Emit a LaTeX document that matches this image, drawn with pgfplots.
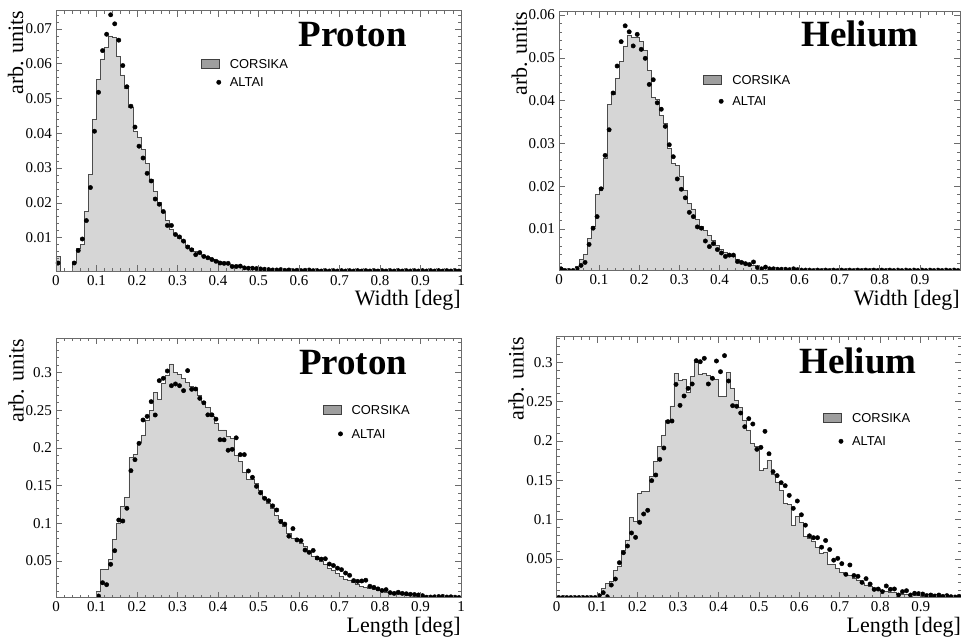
\documentclass[border=0pt]{standalone}
\usepackage{pgfplots}
\usepackage{pgfplotstable}
\pgfplotsset{compat=1.18}
\usepackage{fontspec}
\setmainfont{Liberation Serif}
\newfontfamily\legfont{Liberation Sans}

\definecolor{histfill}{gray}{0.84}
\definecolor{histline}{gray}{0.30}
\definecolor{framecol}{gray}{0.42}
\definecolor{legbox}{gray}{0.62}

% Proton width
\pgfplotstableread{
i h d
0 0.0045 0.0027
1 0.0003 0.0003
2 0.0003 0.0003
3 0.0003 0.0003
4 0.0030 0.0027
5 0.0068 0.0063
6 0.0080 0.0096
7 0.0175 0.0149
8 0.0283 0.0244
9 0.0441 0.0406
10 0.0556 0.0518
11 0.0614 0.0638
12 0.0648 0.0685
13 0.0680 0.0741
14 0.0675 0.0715
15 0.0620 0.0668
16 0.0568 0.0595
17 0.0528 0.0534
18 0.0475 0.0478
19 0.0405 0.0418
20 0.0388 0.0363
21 0.0354 0.0329
22 0.0313 0.0285
23 0.0268 0.0263
24 0.0232 0.0211
25 0.0202 0.0196
26 0.0173 0.0175
27 0.0149 0.0135
28 0.0124 0.0135
29 0.0110 0.0109
30 0.0098 0.0102
31 0.0088 0.0090
32 0.0078 0.0073
33 0.0069 0.0065
34 0.0061 0.0051
35 0.0055 0.0057
36 0.0049 0.0046
37 0.0043 0.0042
38 0.0038 0.0037
39 0.0034 0.0032
40 0.0030 0.0027
41 0.0027 0.0026
42 0.0024 0.0026
43 0.0021 0.0017
44 0.0019 0.0017
45 0.0017 0.0018
46 0.0015 0.0013
47 0.0013 0.0012
48 0.0012 0.0012
49 0.0011 0.0011
50 0.0010 0.0010
51 0.0009 0.0009
52 0.0008 0.0008
53 0.0008 0.0007
54 0.0007 0.0007
55 0.0007 0.0008
56 0.0006 0.0006
57 0.0006 0.0007
58 0.0006 0.0005
59 0.0006 0.0006
60 0.0005 0.0005
61 0.0005 0.0006
62 0.0005 0.0007
63 0.0005 0.0005
64 0.0005 0.0005
65 0.0005 0.0004
66 0.0005 0.0005
67 0.0005 0.0004
68 0.0005 0.0005
69 0.0005 0.0004
70 0.0005 0.0005
71 0.0005 0.0004
72 0.0005 0.0005
73 0.0005 0.0004
74 0.0005 0.0005
75 0.0005 0.0004
76 0.0005 0.0005
77 0.0005 0.0004
78 0.0005 0.0005
79 0.0005 0.0004
80 0.0005 0.0005
81 0.0005 0.0004
82 0.0005 0.0005
83 0.0005 0.0004
84 0.0005 0.0005
85 0.0005 0.0004
86 0.0005 0.0005
87 0.0005 0.0004
88 0.0005 0.0005
89 0.0005 0.0004
90 0.0005 0.0005
91 0.0005 0.0004
92 0.0005 0.0005
93 0.0005 0.0004
94 0.0005 0.0005
95 0.0005 0.0004
96 0.0005 0.0005
97 0.0005 0.0004
98 0.0005 0.0005
99 0.0005 0.0004
100 0.0005 nan
}\tabPW

% Helium width
\pgfplotstableread{
i h d
0 0.0008 0.0007
1 0.0003 0.0003
2 0.0003 0.0003
3 0.0003 0.0003
4 0.0012 0.0007
5 0.0028 0.0015
6 0.0040 0.0022
7 0.0078 0.0064
8 0.0105 0.0102
9 0.0180 0.0129
10 0.0196 0.0194
11 0.0265 0.0272
12 0.0391 0.0332
13 0.0414 0.0418
14 0.0453 0.0481
15 0.0492 0.0538
16 0.0528 0.0575
17 0.0552 0.0561
18 0.0547 0.0528
19 0.0547 0.0555
20 0.0538 0.0520
21 0.0518 0.0499
22 0.0470 0.0438
23 0.0407 0.0449
24 0.0403 0.0395
25 0.0366 0.0380
26 0.0346 0.0340
27 0.0288 0.0297
28 0.0254 0.0269
29 0.0248 0.0217
30 0.0223 0.0193
31 0.0190 0.0173
32 0.0159 0.0139
33 0.0147 0.0129
34 0.0122 0.0105
35 0.0106 0.0102
36 0.0097 0.0072
37 0.0085 0.0059
38 0.0073 0.0066
39 0.0061 0.0052
40 0.0053 0.0044
41 0.0045 0.0036
42 0.0038 0.0039
43 0.0035 0.0039
44 0.0030 0.0024
45 0.0025 0.0022
46 0.0020 0.0019
47 0.0018 0.0017
48 0.0015 0.0023
49 0.0012 0.0010
50 0.0010 0.0007
51 0.0008 0.0011
52 0.0007 0.0007
53 0.0006 0.0007
54 0.0005 0.0006
55 0.0005 0.0006
56 0.0004 0.0006
57 0.0004 0.0005
58 0.0004 0.0007
59 0.0004 0.0005
60 0.0003 0.0004
61 0.0003 0.0004
62 0.0003 0.0004
63 0.0003 0.0003
64 0.0003 0.0004
65 0.0003 0.0003
66 0.0003 0.0004
67 0.0003 0.0003
68 0.0003 0.0004
69 0.0003 0.0003
70 0.0003 0.0004
71 0.0003 0.0003
72 0.0003 0.0004
73 0.0003 0.0003
74 0.0003 0.0004
75 0.0003 0.0003
76 0.0003 0.0004
77 0.0003 0.0003
78 0.0003 0.0004
79 0.0003 0.0003
80 0.0003 0.0004
81 0.0003 0.0003
82 0.0003 0.0004
83 0.0003 0.0003
84 0.0003 0.0004
85 0.0003 0.0003
86 0.0003 0.0004
87 0.0003 0.0003
88 0.0003 0.0004
89 0.0003 0.0003
90 0.0003 0.0004
91 0.0003 0.0003
92 0.0003 0.0004
93 0.0003 0.0003
94 0.0003 0.0004
95 0.0003 0.0003
96 0.0003 0.0004
97 0.0003 0.0003
98 0.0003 0.0004
99 0.0003 0.0003
100 0.0003 nan
}\tabHW

% Proton length
\pgfplotstableread{
i h d
0 0.0015 0.0012
1 0.0015 0.0012
2 0.0015 0.0012
3 0.0015 0.0012
4 0.0015 0.0012
5 0.0015 0.0012
6 0.0015 0.0012
7 0.0015 0.0012
8 0.0015 0.0012
9 0.0015 0.0012
10 0.0100 0.0035
11 0.0385 0.0212
12 0.0385 0.0186
13 0.0520 0.0456
14 0.0790 0.0637
15 0.1000 0.1044
16 0.1220 0.1031
17 0.1340 0.1200
18 0.1870 0.1699
19 0.1915 0.1845
20 0.2075 0.2062
21 0.2170 0.2372
22 0.2370 0.2420
23 0.2500 0.2615
24 0.2740 0.2438
25 0.2650 0.2894
26 0.2860 0.2925
27 0.2960 0.3022
28 0.3115 0.2827
29 0.3000 0.2850
30 0.2980 0.2827
31 0.2920 0.2761
32 0.2870 0.3027
33 0.2820 0.2779
34 0.2780 0.2783
35 0.2700 0.2659
36 0.2620 0.2600
37 0.2540 0.2440
38 0.2420 0.2440
39 0.2320 0.2383
40 0.2240 0.2110
41 0.2240 0.2108
42 0.2150 0.1970
43 0.2130 0.1982
44 0.1900 0.2135
45 0.1820 0.1912
46 0.1680 0.1912
47 0.1580 0.1695
48 0.1580 0.1611
49 0.1530 0.1491
50 0.1440 0.1405
51 0.1350 0.1332
52 0.1270 0.1300
53 0.1200 0.1232
54 0.1100 0.1177
55 0.1050 0.1022
56 0.0960 0.0990
57 0.0870 0.0830
58 0.0800 0.0930
59 0.0780 0.0780
60 0.0740 0.0770
61 0.0690 0.0645
62 0.0620 0.0615
63 0.0560 0.0640
64 0.0520 0.0540
65 0.0490 0.0525
66 0.0450 0.0530
67 0.0400 0.0460
68 0.0370 0.0440
69 0.0340 0.0405
70 0.0300 0.0385
71 0.0260 0.0340
72 0.0240 0.0310
73 0.0212 0.0240
74 0.0190 0.0230
75 0.0168 0.0235
76 0.0150 0.0245
77 0.0133 0.0165
78 0.0120 0.0150
79 0.0108 0.0130
80 0.0096 0.0108
81 0.0086 0.0120
82 0.0077 0.0080
83 0.0069 0.0070
84 0.0062 0.0085
85 0.0055 0.0070
86 0.0049 0.0065
87 0.0044 0.0058
88 0.0040 0.0055
89 0.0036 0.0050
90 0.0032 0.0040
91 0.0029 0.0020
92 0.0026 0.0022
93 0.0024 0.0025
94 0.0022 0.0028
95 0.0020 0.0030
96 0.0018 0.0022
97 0.0017 0.0025
98 0.0016 0.0020
99 0.0015 0.0015
100 0.0015 nan
}\tabPL

% Helium length
\pgfplotstableread{
i h d
0 0.0010 0.0010
1 0.0010 0.0010
2 0.0010 0.0010
3 0.0010 0.0010
4 0.0010 0.0010
5 0.0010 0.0010
6 0.0010 0.0010
7 0.0010 0.0010
8 0.0010 0.0010
9 0.0010 0.0010
10 0.0042 0.0034
11 0.0127 0.0072
12 0.0190 0.0021
13 0.0212 0.0169
14 0.0360 0.0246
15 0.0410 0.0453
16 0.0614 0.0580
17 0.0742 0.0665
18 0.1030 0.0831
19 0.0975 0.0775
20 0.1335 0.0966
21 0.1356 0.1072
22 0.1356 0.1119
23 0.1547 0.1496
24 0.1737 0.1568
25 0.1936 0.1767
26 0.2076 0.1911
27 0.2267 0.2246
28 0.2445 0.2254
29 0.2860 0.2720
30 0.2767 0.2453
31 0.2784 0.2572
32 0.2614 0.2669
33 0.2818 0.2725
34 0.3000 0.3021
35 0.2852 0.3008
36 0.2860 0.3051
37 0.2839 0.2725
38 0.2797 0.2797
39 0.2780 0.3017
40 0.2564 0.2881
41 0.2564 0.3085
42 0.2869 0.2763
43 0.2670 0.2449
44 0.2521 0.2441
45 0.2428 0.2356
46 0.2267 0.2182
47 0.2140 0.2284
48 0.1970 0.2216
49 0.1928 0.1894
50 0.1631 0.1919
51 0.1650 0.2123
52 0.1758 0.1838
53 0.1570 0.1610
54 0.1480 0.1560
55 0.1377 0.1470
56 0.1208 0.1432
57 0.1195 0.1309
58 0.0932 0.1144
59 0.1038 0.1237
60 0.0960 0.1062
61 0.0784 0.0930
62 0.0763 0.0795
63 0.0720 0.0771
64 0.0644 0.0771
65 0.0572 0.0650
66 0.0590 0.0735
67 0.0432 0.0620
68 0.0432 0.0485
69 0.0380 0.0508
70 0.0330 0.0441
71 0.0320 0.0305
72 0.0288 0.0424
73 0.0254 0.0290
74 0.0230 0.0280
75 0.0190 0.0203
76 0.0170 0.0250
77 0.0150 0.0182
78 0.0130 0.0114
79 0.0115 0.0118
80 0.0100 0.0085
81 0.0090 0.0157
82 0.0080 0.0114
83 0.0070 0.0119
84 0.0062 0.0042
85 0.0055 0.0085
86 0.0049 0.0097
87 0.0043 0.0042
88 0.0038 0.0064
89 0.0034 0.0060
90 0.0030 0.0055
91 0.0027 0.0035
92 0.0024 0.0042
93 0.0021 0.0030
94 0.0019 0.0042
95 0.0017 0.0025
96 0.0015 0.0034
97 0.0014 0.0021
98 0.0012 0.0017
99 0.0011 0.0025
100 0.0011 nan
}\tabHL

\tikzset{ttl/.style={anchor=base east, font=\bfseries\fontsize{37}{40}\selectfont, inner sep=0pt}}

\pgfplotsset{
  hbase/.style={
    scale only axis,
    xmin=0, xmax=1,
    axis on top,
    axis line style={framecol, line width=0.8pt},
    every tick/.style={framecol, line width=0.7pt},
    major tick length=6pt, minor tick length=3pt,
    tick align=inside,
    minor tick num=4,
    xtick={0,0.1,0.2,0.3,0.4,0.5,0.6,0.7,0.8,0.9,1},
    scaled ticks=false,
    /pgf/number format/assume math mode=true,
    ticklabel style={font=\fontsize{15}{17}\selectfont, inner sep=0pt, black},
    xticklabel style={yshift=-4pt},
    yticklabel style={xshift=-4pt, /pgf/number format/fixed, /pgf/number format/precision=3},
    xlabel style={at={(axis description cs:1,0)}, anchor=base east, yshift=-35pt, font=\fontsize{22}{24}\selectfont, inner sep=0pt},
    ylabel style={anchor=base east, font=\fontsize{22}{24}\selectfont, inner sep=0pt},
    ylabel={arb. units},
    clip marker paths=true,
    legend style={draw=none, fill=none, inner sep=0pt, outer sep=0pt, anchor=north west,
      font=\legfont\fontsize{12.9}{14}\selectfont,
      nodes={inner sep=0pt, text height=9pt, text depth=0pt},
      /tikz/every odd column/.append style={column sep=8.7pt}},
    legend cell align=left,
  },
  histo/.style={const plot, fill=histfill, draw=histline, line width=0.8pt,
    legend image code/.code={\draw[fill=legbox, draw=black!75, line width=0.6pt] (0pt,-4.5pt) rectangle (18pt,4.5pt);}},
  dots/.style={only marks, mark=*, mark size=2.2pt, black,
    legend image code/.code={\path[draw=none, fill=none] (0pt,-0.1pt) rectangle (18pt,0.1pt); \fill[black] (17.5pt,0pt) circle (2.2pt);}},
}

\begin{document}
\begin{tikzpicture}
\useasboundingbox (0pt,0pt) rectangle (961pt,639pt);

% Top-left: Proton width
\begin{axis}[hbase, at={(56pt,368pt)}, anchor=south west, width=405pt, height=260.3pt,
  ymin=0.0004, ymax=0.07528,
  ytick={0,0.01,0.02,0.03,0.04,0.05,0.06,0.07,0.08},
  xticklabels={0,0.1,0.2,0.3,0.4,0.5,0.6,0.7,0.8,0.9,1},
  xlabel={Width [deg]},
  ylabel style={at={(axis description cs:-0.081,1)}},
  legend style={row sep=9pt, at={(axis description cs:0.358,0.8137)}}]
\addplot[histo] table[x expr=\thisrow{i}/100, y=h] {\tabPW} \closedcycle;
\addlegendentry{CORSIKA}
\addplot[dots] table[x expr=\thisrow{i}/100+0.005, y=d] {\tabPW};
\addlegendentry{ALTAI}
\node[ttl] at (axis description cs:0.8667,0.8617) {Proton};
\end{axis}

% Top-right: Helium width
\begin{axis}[hbase, at={(559pt,368.3pt)}, anchor=south west, width=401pt, height=259pt,
  ymin=0.00026, ymax=0.0608,
  ytick={0,0.01,0.02,0.03,0.04,0.05,0.06,0.07},
  xticklabels={0,0.1,0.2,0.3,0.4,0.5,0.6,0.7,0.8,0.9,{}},
  xlabel={Width [deg]},
  ylabel style={at={(axis description cs:-0.080,1)}},
  legend style={row sep=12.4pt, at={(axis description cs:0.36,0.7564)}}]
\addplot[histo] table[x expr=\thisrow{i}/100, y=h] {\tabHW} \closedcycle;
\addlegendentry{CORSIKA}
\addplot[dots] table[x expr=\thisrow{i}/100+0.005, y=d] {\tabHW};
\addlegendentry{ALTAI}
\node[ttl] at (axis description cs:0.897,0.865) {Helium};
\end{axis}

% Bottom-left: Proton length
\begin{axis}[hbase, at={(56pt,41.3pt)}, anchor=south west, width=405pt, height=259.4pt,
  ymin=0.0013, ymax=0.3456,
  ytick={0,0.05,0.1,0.15,0.2,0.25,0.3,0.35},
  xticklabels={0,0.1,0.2,0.3,0.4,0.5,0.6,0.7,0.8,0.9,1},
  xlabel={Length [deg]},
  ylabel style={at={(axis description cs:-0.080,1)}},
  legend style={row sep=14.3pt, at={(axis description cs:0.6585,0.741)}}]
\addplot[histo] table[x expr=\thisrow{i}/100, y=h] {\tabPL} \closedcycle;
\addlegendentry{CORSIKA}
\addplot[dots] table[x expr=\thisrow{i}/100+0.005, y=d] {\tabPL};
\addlegendentry{ALTAI}
\node[ttl] at (axis description cs:0.868,0.861) {Proton};
\end{axis}

% Bottom-right: Helium length
\begin{axis}[hbase, at={(556.7pt,41.3pt)}, anchor=south west, width=404.4pt, height=261pt,
  ymin=0.0008, ymax=0.3326,
  ytick={0,0.05,0.1,0.15,0.2,0.25,0.3,0.35},
  xticklabels={0,0.1,0.2,0.3,0.4,0.5,0.6,0.7,0.8,0.9,{}},
  xlabel={Length [deg]},
  ylabel style={at={(axis description cs:-0.082,1)}},
  legend style={row sep=14.4pt, at={(axis description cs:0.659,0.7084)}}]
\addplot[histo] table[x expr=\thisrow{i}/100, y=h] {\tabHL} \closedcycle;
\addlegendentry{CORSIKA}
\addplot[dots] table[x expr=\thisrow{i}/100+0.005, y=d] {\tabHL};
\addlegendentry{ALTAI}
\node[ttl] at (axis description cs:0.890,0.86) {Helium};
\end{axis}
\end{tikzpicture}
\end{document}
